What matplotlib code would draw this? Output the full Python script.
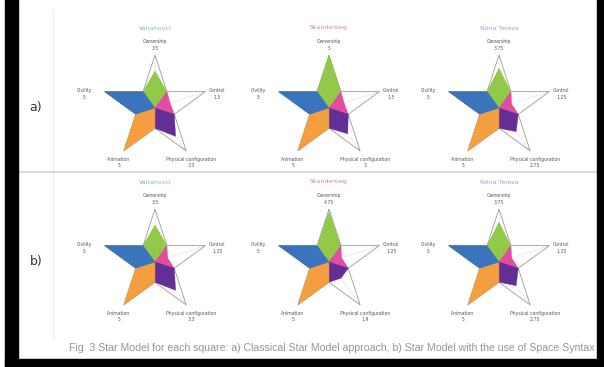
import numpy as np
import matplotlib
matplotlib.use("Agg")
import matplotlib.pyplot as plt
from matplotlib.patches import Polygon, Rectangle

# ---------------- data ----------------
titles = ["Valrahovci", "Skanderbeg", "Nëna Tereza"]
title_colors = ["#7fb8a8", "#d08a90", "#8fa8d8"]
row_labels = ["a)", "b)"]
axes_names = ["Ownership", "Control", "Physical configuration", "Animation", "Civility"]
scale_max = 5.0

# values per chart: [top, right, bottom-right, bottom-left, left]
values_a = [
    [3.5, 1.5, 3.3, 5, 5],
    [5, 1.5, 3, 5, 5],
    [3.75, 1.25, 2.75, 5, 5],
]
values_b = [
    [3.5, 1.25, 3.3, 5, 5],
    [4.75, 1.25, 1.9, 5, 5],
    [3.75, 1.25, 2.75, 5, 5],
]
value_labels_a = [
    ["3.5", "1.5", "3.3", "5", "5"],
    ["5", "1.5", "3", "5", "5"],
    ["3.75", "1.25", "2.75", "5", "5"],
]
value_labels_b = [
    ["3.5", "1.25", "3.3", "5", "5"],
    ["4.75", "1.25", "1.9", "5", "5"],
    ["3.75", "1.25", "2.75", "5", "5"],
]
arm_colors = ["#8cc63f", "#e0449a", "#5b2390", "#f39a36", "#2f6cb8"]
caption = ("Fig. 3 Star Model for each square: a) Classical Star Model approach, "
           "b) Star Model with the use of Space Syntax")

# ---------------- layout ----------------
W, H = 604, 367
fig = plt.figure(figsize=(W / 100, H / 100), dpi=100)
ax = fig.add_axes([0, 0, 1, 1])
ax.set_xlim(0, W)
ax.set_ylim(H, 0)
ax.axis("off")

# black frame strips
ax.add_patch(Rectangle((5, 0), 13, H, color="black", zorder=10))
ax.add_patch(Rectangle((597, 0), 7, H, color="black", zorder=10))
ax.add_patch(Rectangle((5, 359), 599, 8, color="black", zorder=10))
# separators
ax.plot([18, 597], [172, 172], color="#d4d4d4", lw=1.2, zorder=1)
ax.plot([53, 53], [10, 340], color="#f0f0f0", lw=0.8, zorder=0)

angles = np.deg2rad([90, 18, -54, -126, 162])
inner_ratio = np.sin(np.deg2rad(18)) / np.sin(np.deg2rad(126))


def pt(cx, cy, r, a):
    return (cx + r * np.cos(a), cy - r * np.sin(a))


def draw_star(cx, cy, R, vals, vlabels, title, tcolor):
    rin = R * inner_ratio
    # outline
    outline = []
    for a in angles:
        outline.append(pt(cx, cy, R, a))
        outline.append(pt(cx, cy, rin, a - np.deg2rad(36)))
    ax.add_patch(Polygon(outline, closed=True, fill=False, ec="#9a9a9a", lw=0.6, zorder=2))
    for a in angles:
        p = pt(cx, cy, R, a)
        ax.plot([cx, p[0]], [cy, p[1]], color="#e4e4e4", lw=0.5, zorder=1)
    # arms
    for i, a in enumerate(angles):
        f = vals[i] / scale_max
        poly = [(cx, cy),
                pt(cx, cy, rin, a + np.deg2rad(36)),
                pt(cx, cy, R * f, a),
                pt(cx, cy, rin, a - np.deg2rad(36))]
        ax.add_patch(Polygon(poly, closed=True, fc=arm_colors[i], ec=arm_colors[i],
                             lw=0.3, alpha=0.95, zorder=3))
    # labels
    fs = 3.3
    lc = "#555555"
    top = pt(cx, cy, R, angles[0])
    ax.text(top[0], top[1] - 13, axes_names[0], ha="center", va="center", fontsize=fs, color=lc)
    ax.text(top[0], top[1] - 7, vlabels[0], ha="center", va="center", fontsize=fs, color=lc)
    rt = pt(cx, cy, R, angles[1])
    ax.text(rt[0] + 12, rt[1] - 1, axes_names[1], ha="center", va="center", fontsize=fs, color=lc)
    ax.text(rt[0] + 12, rt[1] + 6, vlabels[1], ha="center", va="center", fontsize=fs, color=lc)
    br = pt(cx, cy, R, angles[2])
    ax.text(br[0] + 5, br[1] + 9, axes_names[2], ha="center", va="center", fontsize=fs, color=lc)
    ax.text(br[0] + 5, br[1] + 15, vlabels[2], ha="center", va="center", fontsize=fs, color=lc)
    bl = pt(cx, cy, R, angles[3])
    ax.text(bl[0] - 5, bl[1] + 9, axes_names[3], ha="center", va="center", fontsize=fs, color=lc)
    ax.text(bl[0] - 5, bl[1] + 15, vlabels[3], ha="center", va="center", fontsize=fs, color=lc)
    lf = pt(cx, cy, R, angles[4])
    ax.text(lf[0] - 20, lf[1] - 1, axes_names[4], ha="center", va="center", fontsize=fs, color=lc)
    ax.text(lf[0] - 20, lf[1] + 6, vlabels[4], ha="center", va="center", fontsize=fs, color=lc)
    # title
    ax.text(cx, top[1] - 27, title, ha="center", va="center", fontsize=4.5, color=tcolor)


centers_x = [155, 329, 499]
row_y = [108, 262]
R = 53
for j, (vals_row, lab_row) in enumerate([(values_a, value_labels_a), (values_b, value_labels_b)]):
    for k in range(3):
        draw_star(centers_x[k], row_y[j], R, vals_row[k], lab_row[k], titles[k], title_colors[k])

ax.text(36, 107, row_labels[0], ha="center", va="center", fontsize=9, color="#333333")
ax.text(36, 261, row_labels[1], ha="center", va="center", fontsize=9, color="#333333")

ax.text(594, 348, caption, ha="right", va="center", fontsize=7.6, color="#959595",
        family="Liberation Sans")

fig.savefig("out.png", dpi=100, facecolor="white")
